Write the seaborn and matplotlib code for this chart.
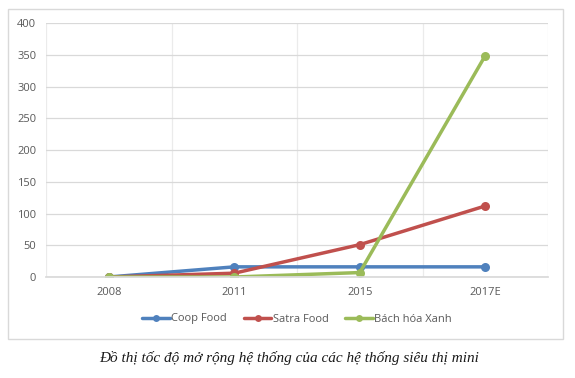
import matplotlib
matplotlib.use("Agg")
import matplotlib.pyplot as plt
import seaborn as sns
import pandas as pd
from matplotlib.patches import Rectangle

years = ["2008", "2011", "2015", "2017E"]
coop_food = [0, 16, 16, 16]
satra_food = [0, 6, 51, 112]
bach_hoa_xanh = [0, 0, 7, 349]
series_names = ["Coop Food", "Satra Food", "Bách hóa Xanh"]
yticks = [0, 50, 100, 150, 200, 250, 300, 350, 400]
caption = "Đồ thị tốc độ mở rộng hệ thống của các hệ thống siêu thị mini"

colors = ["#4F81BD", "#C0504D", "#9BBB59"]

rows = []
for name, vals in zip(series_names, [coop_food, satra_food, bach_hoa_xanh]):
    for y, v in zip(years, vals):
        rows.append({"year": y, "value": v, "series": name})
df = pd.DataFrame(rows)

sns.set_theme(style="white")
plt.rcParams["font.family"] = ["Open Sans", "DejaVu Sans"]

fig = plt.figure(figsize=(5.75, 3.78), dpi=100)
ax = fig.add_axes([46/575, 1-277/378, (548-46)/575, (277-23.3)/378])

# chart border box
fig.patches.append(Rectangle((8/575, 1-339/378), (563-8)/575, (339-9)/378,
                             transform=fig.transFigure, fill=False,
                             edgecolor="#D9D9D9", linewidth=1.0))

sns.lineplot(data=df, x="year", y="value", hue="series", palette=colors,
             marker="o", markersize=6.5, markeredgewidth=0, linewidth=2.5,
             sort=False, ax=ax, legend=True)

ax.set_xlim(-0.5, 3.5)
ax.set_ylim(0, 400)
ax.set_yticks(yticks)
ax.set_xticks(range(len(years)))
ax.set_xticklabels(years)
ax.set_xticks([-0.5, 0.5, 1.5, 2.5, 3.5], minor=True)
ax.grid(True, axis="y", color="#D9D9D9", linewidth=0.9)
ax.grid(True, axis="x", which="minor", color="#EBEBEB", linewidth=0.9)
ax.grid(False, axis="x", which="major")
ax.set_axisbelow(True)
for s in ["top", "right", "left"]:
    ax.spines[s].set_visible(False)
ax.spines["bottom"].set_color("#D9D9D9")
ax.tick_params(axis="both", length=0, labelsize=8, labelcolor="#595959", pad=7)
ax.tick_params(axis="x", which="minor", length=0)
ax.set_xlabel("")
ax.set_ylabel("")

handles, labels = ax.get_legend_handles_labels()
for h in handles:
    h.set_markersize(5)
ax.legend(handles, labels, loc="center",
          bbox_to_anchor=(0.5, (1-319/378 - (1-277/378)) / ((277-23.3)/378)),
          bbox_transform=ax.transAxes, ncol=3, frameon=False, fontsize=8,
          labelcolor="#595959", handlelength=2.5, handletextpad=0.1, columnspacing=1.5)

fig.text(289/575, 1-358/378, caption, ha="center", va="center",
         family=["Liberation Serif"], style="italic", fontsize=11, color="#1a1a1a")

fig.savefig("out.png", dpi=100, facecolor="white")
